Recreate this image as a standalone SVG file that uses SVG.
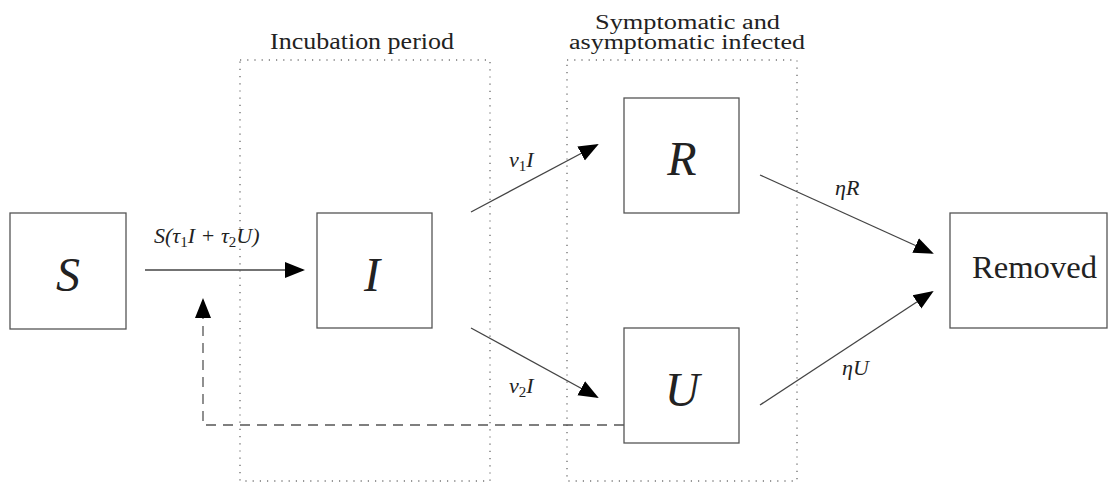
<svg xmlns="http://www.w3.org/2000/svg" width="1119" height="483" viewBox="0 0 1119 483">
<defs>
<marker id="ah" viewBox="0 0 10 10" refX="9" refY="5" markerWidth="20" markerHeight="20" markerUnits="userSpaceOnUse" orient="auto">
<path d="M0,1 L10,5 L0,9 Z" fill="#000"/>
</marker>
</defs>
<g id="regions" fill="none" stroke="#777" stroke-width="1.4" stroke-dasharray="1.2 6">
<rect x="240" y="60" width="250" height="421"/>
<rect x="567" y="60" width="230" height="421"/>
</g>
<g id="region-labels" fill="#222" stroke="none">
<text font-family="serif" font-size="23" x="270" y="49" textLength="184" lengthAdjust="spacingAndGlyphs">Incubation period</text>
<text font-family="serif" font-size="20" x="595" y="29" textLength="185" lengthAdjust="spacingAndGlyphs">Symptomatic and</text>
<text font-family="serif" font-size="20" x="569" y="49" textLength="236" lengthAdjust="spacingAndGlyphs">asymptomatic infected</text>
</g>
<g id="connectors" fill="none" stroke="#444" stroke-width="1.3">
<line x1="145" y1="270" x2="303" y2="270" marker-end="url(#ah)"/>
<line x1="471" y1="212" x2="597" y2="145" marker-end="url(#ah)"/>
<line x1="471" y1="328" x2="597" y2="397" marker-end="url(#ah)"/>
<line x1="760" y1="175" x2="932" y2="253" marker-end="url(#ah)"/>
<line x1="760" y1="405" x2="932" y2="292" marker-end="url(#ah)"/>
<polyline points="624,425 203,425 203,300" stroke="#555" stroke-dasharray="10 7" marker-end="url(#ah)"/>
</g>
<g id="edge-labels" fill="#222" stroke="none" font-size="22" font-style="italic">
<text font-family="serif" x="154" y="243">S(τ<tspan font-size="15" font-style="normal" dy="4">1</tspan><tspan dy="-4">I + τ</tspan><tspan font-size="15" font-style="normal" dy="4">2</tspan><tspan dy="-4">U)</tspan></text>
<text font-family="serif" x="509" y="167">ν<tspan font-size="15" font-style="normal" dy="4">1</tspan><tspan dy="-4">I</tspan></text>
<text font-family="serif" x="509" y="393">ν<tspan font-size="15" font-style="normal" dy="4">2</tspan><tspan dy="-4">I</tspan></text>
<text font-family="serif" x="835" y="195">ηR</text>
<text font-family="serif" x="842" y="375">ηU</text>
</g>
<g id="S">
<rect x="10" y="213" width="116" height="116" fill="#fff" stroke="#555" stroke-width="1.3"/>
<text font-family="serif" font-size="48" font-style="italic" fill="#222" x="68" y="291" text-anchor="middle">S</text>
</g>
<g id="I">
<rect x="317" y="213" width="115" height="115" fill="#fff" stroke="#555" stroke-width="1.3"/>
<text font-family="serif" font-size="48" font-style="italic" fill="#222" x="372" y="291" text-anchor="middle">I</text>
</g>
<g id="R">
<rect x="624" y="98" width="115" height="115" fill="#fff" stroke="#555" stroke-width="1.3"/>
<text font-family="serif" font-size="48" font-style="italic" fill="#222" x="682" y="175" text-anchor="middle">R</text>
</g>
<g id="U">
<rect x="624" y="328" width="115" height="115" fill="#fff" stroke="#555" stroke-width="1.3"/>
<text font-family="serif" font-size="48" font-style="italic" fill="#222" x="682" y="406" text-anchor="middle">U</text>
</g>
<g id="Removed">
<rect x="950" y="213" width="157" height="115" fill="#fff" stroke="#555" stroke-width="1.3"/>
<text font-family="serif" font-size="31" fill="#222" x="972" y="278" textLength="125" lengthAdjust="spacingAndGlyphs">Removed</text>
</g>
</svg>
